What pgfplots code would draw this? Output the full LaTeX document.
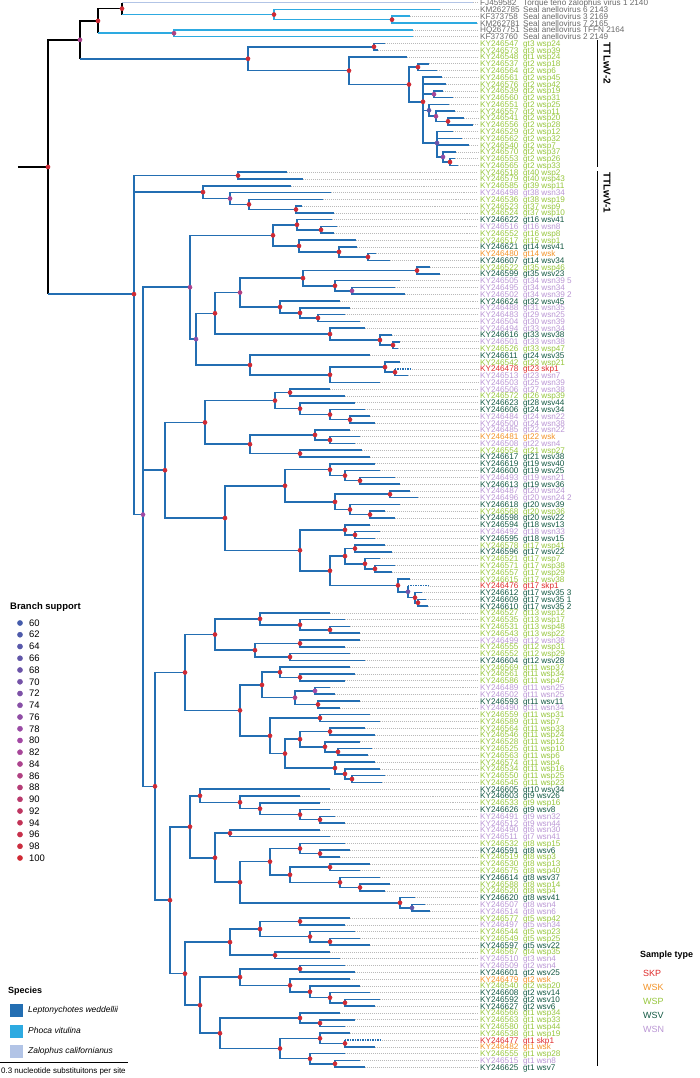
\documentclass[border=0pt]{standalone}
\usepackage{pgfplots}
\pgfplotsset{compat=1.18}
\usepackage{fontspec}
\setmainfont{Liberation Sans}
\definecolor{lep}{RGB}{35,110,178}
\definecolor{pho}{RGB}{45,170,225}
\definecolor{zal}{RGB}{178,196,230}
\definecolor{cP}{RGB}{150,198,60}
\definecolor{cV}{RGB}{18,88,66}
\definecolor{cN}{RGB}{186,150,212}
\definecolor{cK}{RGB}{242,146,38}
\definecolor{cS}{RGB}{222,42,42}
\definecolor{cO}{RGB}{105,105,105}
\definecolor{ldr}{RGB}{185,185,185}
\tikzset{lb/.style={anchor=west,inner sep=0pt,text height=6bp,text depth=0bp,font=\fontsize{8.2}{8.2}\selectfont}}
\newcommand{\lf}[4]{\node[lb,text=#4] at (axis cs:480,#1) {#2};\node[lb,text=#4] at (axis cs:523,#1) {#3};}
\begin{document}
\begin{tikzpicture}
\begin{axis}[scale only axis, width=700bp, height=1078bp, xmin=0, xmax=700, ymin=-0.398, ymax=158.6, y dir=reverse, hide axis, clip=false, unbounded coords=jump,
 colormap={supp}{[1cm] rgb255(0cm)=(69,92,171) rgb255(1cm)=(163,73,164) rgb255(2cm)=(208,42,52)}, point meta min=60, point meta max=100]
% leader lines
\addplot[ldr, line width=0.5, dash pattern=on 0.6pt off 1.4pt] coordinates {
(473,0)(478,0)(nan,nan)(440,1)(478,1)(nan,nan)(410,2)(478,2)(nan,nan)(477,3)(478,3)(nan,nan)(413,4)(478,4)(nan,nan)(413,5)(478,5)(nan,nan)
(385,6)(478,6)(nan,nan)(378,7)(478,7)(nan,nan)(407,8)(478,8)(nan,nan)(429,9)(478,9)(nan,nan)(437,10)(478,10)(nan,nan)(442,11)(478,11)(nan,nan)
(446,12)(478,12)(nan,nan)(443,13)(478,13)(nan,nan)(453,14)(478,14)(nan,nan)(449,15)(478,15)(nan,nan)(455,16)(478,16)(nan,nan)(464,17)(478,17)(nan,nan)
(473,18)(478,18)(nan,nan)(453,19)(478,19)(nan,nan)(462,20)(478,20)(nan,nan)(469,21)(478,21)(nan,nan)(456,22)(478,22)(nan,nan)(455,23)(478,23)(nan,nan)
(458,24)(478,24)(nan,nan)(287,25)(478,25)(nan,nan)(303,26)(478,26)(nan,nan)(291,27)(478,27)(nan,nan)(331,28)(478,28)(nan,nan)(323,29)(478,29)(nan,nan)
(302,30)(478,30)(nan,nan)(334,31)(478,31)(nan,nan)(332,32)(478,32)(nan,nan)(337,33)(478,33)(nan,nan)(334,34)(478,34)(nan,nan)(356,35)(478,35)(nan,nan)
(357,36)(478,36)(nan,nan)(376,37)(478,37)(nan,nan)(390,38)(478,38)(nan,nan)(430,39)(478,39)(nan,nan)(440,40)(478,40)(nan,nan)(400,41)(478,41)(nan,nan)
(395,42)(478,42)(nan,nan)(405,43)(478,43)(nan,nan)(340,44)(478,44)(nan,nan)(350,45)(478,45)(nan,nan)(345,46)(478,46)(nan,nan)(360,47)(478,47)(nan,nan)
(365,48)(478,48)(nan,nan)(392,49)(478,49)(nan,nan)(400,50)(478,50)(nan,nan)(398,51)(478,51)(nan,nan)(370,52)(478,52)(nan,nan)(400,53)(478,53)(nan,nan)
(412,54)(478,54)(nan,nan)(408,55)(478,55)(nan,nan)(380,56)(478,56)(nan,nan)(330,57)(478,57)(nan,nan)(345,58)(478,58)(nan,nan)(355,59)(478,59)(nan,nan)
(365,60)(478,60)(nan,nan)(370,61)(478,61)(nan,nan)(375,62)(478,62)(nan,nan)(350,63)(478,63)(nan,nan)(360,64)(478,64)(nan,nan)(355,65)(478,65)(nan,nan)
(362,66)(478,66)(nan,nan)(370,67)(478,67)(nan,nan)(375,68)(478,68)(nan,nan)(380,69)(478,69)(nan,nan)(395,70)(478,70)(nan,nan)(400,71)(478,71)(nan,nan)
(410,72)(478,72)(nan,nan)(418,73)(478,73)(nan,nan)(400,74)(478,74)(nan,nan)(385,75)(478,75)(nan,nan)(395,76)(478,76)(nan,nan)(370,77)(478,77)(nan,nan)
(380,78)(478,78)(nan,nan)(375,79)(478,79)(nan,nan)(385,80)(478,80)(nan,nan)(392,81)(478,81)(nan,nan)(380,82)(478,82)(nan,nan)(395,83)(478,83)(nan,nan)
(392,84)(478,84)(nan,nan)(410,85)(478,85)(nan,nan)(428,86)(478,86)(nan,nan)(422,87)(478,87)(nan,nan)(426,88)(478,88)(nan,nan)(428,89)(478,89)(nan,nan)
(330,90)(478,90)(nan,nan)(345,91)(478,91)(nan,nan)(350,92)(478,92)(nan,nan)(360,93)(478,93)(nan,nan)(360,94)(478,94)(nan,nan)(345,95)(478,95)(nan,nan)
(350,96)(478,96)(nan,nan)(365,97)(478,97)(nan,nan)(350,98)(478,98)(nan,nan)(355,99)(478,99)(nan,nan)(345,100)(478,100)(nan,nan)(330,101)(478,101)(nan,nan)
(335,102)(478,102)(nan,nan)(360,103)(478,103)(nan,nan)(340,104)(478,104)(nan,nan)(370,105)(478,105)(nan,nan)(380,106)(478,106)(nan,nan)(365,107)(478,107)(nan,nan)
(375,108)(478,108)(nan,nan)(360,109)(478,109)(nan,nan)(372,110)(478,110)(nan,nan)(368,111)(478,111)(nan,nan)(375,112)(478,112)(nan,nan)(380,113)(478,113)(nan,nan)
(385,114)(478,114)(nan,nan)(382,115)(478,115)(nan,nan)(330,116)(478,116)(nan,nan)(300,117)(478,117)(nan,nan)(320,118)(478,118)(nan,nan)(330,119)(478,119)(nan,nan)
(335,120)(478,120)(nan,nan)(345,121)(478,121)(nan,nan)(320,122)(478,122)(nan,nan)(330,123)(478,123)(nan,nan)(345,124)(478,124)(nan,nan)(350,125)(478,125)(nan,nan)
(340,126)(478,126)(nan,nan)(370,127)(478,127)(nan,nan)(360,128)(478,128)(nan,nan)(380,129)(478,129)(nan,nan)(390,130)(478,130)(nan,nan)(385,131)(478,131)(nan,nan)
(415,132)(478,132)(nan,nan)(425,133)(478,133)(nan,nan)(430,134)(478,134)(nan,nan)(350,135)(478,135)(nan,nan)(345,136)(478,136)(nan,nan)(355,137)(478,137)(nan,nan)
(360,138)(478,138)(nan,nan)(370,139)(478,139)(nan,nan)(330,140)(478,140)(nan,nan)(340,141)(478,141)(nan,nan)(345,142)(478,142)(nan,nan)(355,143)(478,143)(nan,nan)
(350,144)(478,144)(nan,nan)(360,145)(478,145)(nan,nan)(370,146)(478,146)(nan,nan)(380,147)(478,147)(nan,nan)(375,148)(478,148)(nan,nan)(340,149)(478,149)(nan,nan)
(355,150)(478,150)(nan,nan)(345,151)(478,151)(nan,nan)(350,152)(478,152)(nan,nan)(380,153)(478,153)(nan,nan)(375,154)(478,154)(nan,nan)(345,155)(478,155)(nan,nan)
(360,156)(478,156)(nan,nan)(365,157)(478,157)
};
% black backbone
\addplot[black, line width=1.6] coordinates {
(80,5.476)(48,5.476)(48,42.98)(nan,nan)(18,24.228)(48,24.228)(nan,nan)
(98,2.6875)(80,2.6875)(80,8.264)(nan,nan)(122,0.875)(98,0.875)(98,4.5)(nan,nan)(122,0)(122,1.75)
};
% Zalophus
\addplot[zal, line width=1.6] coordinates {(122,0)(473,0)};
% Phoca
\addplot[pho, line width=1.6] coordinates {
(98,4.5)(174,4.5)(nan,nan)(122,1.75)(274,1.75)(nan,nan)(440,1)(274,1)(274,2.5)(392,2.5)(nan,nan)
(410,2)(392,2)(392,3)(477,3)(nan,nan)(413,4)(174,4)(174,5)(413,5)
};
% Leptonychotes
\addplot[lep, line width=1.6] coordinates {
(48,42.98)(134,42.98)(nan,nan)(80,8.264)(248,8.264)(nan,nan)
(374,6.5)(248,6.5)(248,10.028)(349,10.028)(nan,nan)
(385,6)(374,6)(374,7)(378,7)(nan,nan)
(407,8)(349,8)(349,12.056)(409,12.056)(nan,nan)
(418,9.5)(409,9.5)(409,14.6125)(423,14.6125)(nan,nan)
(429,9)(418,9)(418,10)(437,10)(nan,nan)
(442,11)(423,11)(423,20.6875)(437,20.6875)(nan,nan)(423,12)(446,12)(nan,nan)(423,13.5)(434,13.5)(nan,nan)(423,15.875)(429,15.875)(nan,nan)
(443,13)(434,13)(434,14)(453,14)(nan,nan)
(449,15)(429,15)(429,16.75)(436,16.75)(nan,nan)
(455,16)(436,16)(436,17.5)(448,17.5)(nan,nan)
(464,17)(448,17)(448,18)(473,18)(nan,nan)
(453,19)(437,19)(437,22.75)(443,22.75)(nan,nan)(437,20)(462,20)(nan,nan)(437,21)(469,21)(nan,nan)
(456,22)(443,22)(443,23.5)(450,23.5)(nan,nan)
(455,23)(450,23)(450,24)(458,24)(nan,nan)
(238,25.5)(134,25.5)(134,75.502)(143,75.502)(nan,nan)(134,27.9375)(203,27.9375)(nan,nan)
(287,25)(238,25)(238,26)(303,26)(nan,nan)
(291,27)(203,27)(203,28.875)(230,28.875)(nan,nan)
(331,28)(230,28)(230,29.75)(249,29.75)(nan,nan)
(323,29)(249,29)(249,30.5)(296,30.5)(nan,nan)
(302,30)(296,30)(296,31)(334,31)(nan,nan)
(190,41.969)(143,41.969)(143,115.578)(155,115.578)(nan,nan)(143,68.957)(165,68.957)(nan,nan)
(273,34.3125)(190,34.3125)(190,49.625)(196,49.625)(nan,nan)
(297,32.75)(273,32.75)(273,35.875)(299,35.875)(nan,nan)
(332,32)(297,32)(297,33.5)(321,33.5)(nan,nan)
(337,33)(321,33)(321,34)(334,34)(nan,nan)
(356,35)(299,35)(299,36.75)(339,36.75)(nan,nan)
(357,36)(339,36)(339,37.5)(368,37.5)(nan,nan)
(376,37)(368,37)(368,38)(390,38)(nan,nan)
(215,45.8125)(196,45.8125)(196,53.4375)(250,53.4375)(nan,nan)
(240,42.75)(215,42.75)(215,48.875)(330,48.875)(nan,nan)
(303,40.625)(240,40.625)(240,44.875)(280,44.875)(nan,nan)
(417,39.5)(303,39.5)(303,41.75)(335,41.75)(nan,nan)
(430,39)(417,39)(417,40)(440,40)(nan,nan)
(400,41)(335,41)(335,42.5)(352,42.5)(nan,nan)
(395,42)(352,42)(352,43)(405,43)(nan,nan)
(340,44)(280,44)(280,45.75)(300,45.75)(nan,nan)
(350,45)(300,45)(300,46.5)(318,46.5)(nan,nan)
(345,46)(318,46)(318,47)(360,47)(nan,nan)
(365,48)(330,48)(330,49.75)(380,49.75)(nan,nan)
(392,49)(380,49)(380,50.5)(393,50.5)(nan,nan)
(400,50)(393,50)(393,51)(398,51)(nan,nan)
(370,52)(250,52)(250,54.875)(330,54.875)(nan,nan)
(385,53.75)(330,53.75)(330,56)(380,56)(nan,nan)
(400,53)(385,53)(385,54.5)(395,54.5)(nan,nan)
(395,54)(395,55)(408,55)(nan,nan)
(205,61.906)(165,61.906)(165,76.008)(225,76.008)(nan,nan)
(275,58.6875)(205,58.6875)(205,65.125)(250,65.125)(nan,nan)
(290,57.5)(275,57.5)(275,59.875)(300,59.875)(nan,nan)
(330,57)(290,57)(290,58)(345,58)(nan,nan)
(355,59)(300,59)(300,60.75)(330,60.75)(nan,nan)
(365,60)(330,60)(330,61.5)(350,61.5)(nan,nan)
(370,61)(350,61)(350,62)(375,62)(nan,nan)
(315,63.75)(250,63.75)(250,66.5)(300,66.5)(nan,nan)
(350,63)(315,63)(315,64.5)(330,64.5)(nan,nan)
(360,64)(330,64)(330,65)(355,65)(nan,nan)
(362,66)(300,66)(300,67)(370,67)(nan,nan)
(285,71.25)(225,71.25)(225,80.766)(300,80.766)(nan,nan)
(330,68.875)(285,68.875)(285,73.625)(335,73.625)(nan,nan)
(375,68)(330,68)(330,69.75)(345,69.75)(nan,nan)
(380,69)(345,69)(345,70.5)(360,70.5)(nan,nan)
(395,70)(360,70)(360,71)(400,71)(nan,nan)
(390,72.5)(335,72.5)(335,74.75)(350,74.75)(nan,nan)
(410,72)(390,72)(390,73)(418,73)(nan,nan)
(400,74)(350,74)(350,75.5)(370,75.5)(nan,nan)
(385,75)(370,75)(370,76)(395,76)(nan,nan)
(345,77.75)(300,77.75)(300,83.781)(330,83.781)(nan,nan)
(370,77)(345,77)(345,78.5)(355,78.5)(nan,nan)
(380,78)(355,78)(355,79)(375,79)(nan,nan)
(345,81.625)(330,81.625)(330,85.9375)(398,85.9375)(nan,nan)
(355,80.5)(345,80.5)(345,82.75)(365,82.75)(nan,nan)
(385,80)(355,80)(355,81)(392,81)(nan,nan)
(380,82)(365,82)(365,83.5)(375,83.5)(nan,nan)
(395,83)(375,83)(375,84)(392,84)(nan,nan)
(410,85)(398,85)(398,86.875)(408,86.875)(nan,nan)
(408,86)(408,87.75)(415,87.75)(nan,nan)
(422,87)(415,87)(415,88.5)(418,88.5)(nan,nan)
(426,88)(418,88)(418,89)(428,89)(nan,nan)
(185,98.781)(155,98.781)(155,132.375)(170,132.375)(nan,nan)
(215,93.1875)(185,93.1875)(185,104.375)(240,104.375)(nan,nan)
(260,90.875)(215,90.875)(215,95.5)(255,95.5)(nan,nan)
(330,90)(260,90)(260,91.75)(300,91.75)(nan,nan)
(345,91)(300,91)(300,92.5)(330,92.5)(nan,nan)
(350,92)(330,92)(330,93)(360,93)(nan,nan)
(300,94.5)(255,94.5)(255,96.5)(290,96.5)(nan,nan)
(360,94)(300,94)(300,95)(345,95)(nan,nan)
(350,96)(290,96)(290,97)(365,97)(nan,nan)
(262,100.625)(240,100.625)(240,108.125)(270,108.125)(nan,nan)
(280,98.75)(262,98.75)(262,102.5)(295,102.5)(nan,nan)
(350,98)(280,98)(280,99.5)(300,99.5)(nan,nan)
(355,99)(300,99)(300,100)(345,100)(nan,nan)
(315,101.5)(295,101.5)(295,103.5)(318,103.5)(nan,nan)
(330,101)(315,101)(315,102)(335,102)(nan,nan)
(360,103)(318,103)(318,104)(340,104)(nan,nan)
(320,105.5)(270,105.5)(270,110.75)(285,110.75)(nan,nan)
(370,105)(320,105)(320,106)(380,106)(nan,nan)
(300,108.625)(285,108.625)(285,112.875)(335,112.875)(nan,nan)
(330,107.5)(300,107.5)(300,109.75)(325,109.75)(nan,nan)
(365,107)(330,107)(330,108)(375,108)(nan,nan)
(360,109)(325,109)(325,110.5)(338,110.5)(nan,nan)
(372,110)(338,110)(338,111)(368,111)(nan,nan)
(375,112)(335,112)(335,113.75)(345,113.75)(nan,nan)
(380,113)(345,113)(345,114.5)(352,114.5)(nan,nan)
(385,114)(352,114)(352,115)(382,115)(nan,nan)
(190,121.539)(170,121.539)(170,143.211)(185,143.211)(nan,nan)
(200,116.969)(190,116.969)(190,126.109)(215,126.109)(nan,nan)
(330,116)(200,116)(200,117.9375)(240,117.9375)(nan,nan)
(300,117)(240,117)(240,118.875)(260,118.875)(nan,nan)
(320,118)(260,118)(260,119.75)(300,119.75)(nan,nan)
(330,119)(300,119)(300,120.5)(320,120.5)(nan,nan)
(335,120)(320,120)(320,121)(345,121)(nan,nan)
(230,122.5)(215,122.5)(215,129.719)(240,129.719)(nan,nan)
(320,122)(230,122)(230,123)(330,123)(nan,nan)
(270,126.6875)(240,126.6875)(240,132.75)(400,132.75)(nan,nan)
(300,124.75)(270,124.75)(270,128.625)(290,128.625)(nan,nan)
(345,124)(300,124)(300,125.5)(320,125.5)(nan,nan)
(350,125)(320,125)(320,126)(340,126)(nan,nan)
(330,127.5)(290,127.5)(290,129.75)(340,129.75)(nan,nan)
(370,127)(330,127)(330,128)(360,128)(nan,nan)
(380,129)(340,129)(340,130.5)(360,130.5)(nan,nan)
(390,130)(360,130)(360,131)(385,131)(nan,nan)
(415,132)(400,132)(400,133.5)(412,133.5)(nan,nan)
(425,133)(412,133)(412,134)(430,134)(nan,nan)
(230,138.5625)(185,138.5625)(185,147.859)(200,147.859)(nan,nan)
(260,136.625)(230,136.625)(230,140.5)(275,140.5)(nan,nan)
(300,135.5)(260,135.5)(260,137.75)(310,137.75)(nan,nan)
(350,135)(300,135)(300,136)(345,136)(nan,nan)
(355,137)(310,137)(310,138.5)(330,138.5)(nan,nan)
(360,138)(330,138)(330,139)(370,139)(nan,nan)
(330,140)(275,140)(275,141)(340,141)(nan,nan)
(240,143.71875)(200,143.71875)(200,152)(220,152)(nan,nan)
(300,142.5)(240,142.5)(240,144.9375)(290,144.9375)(nan,nan)
(345,142)(300,142)(300,143)(355,143)(nan,nan)
(350,144)(290,144)(290,145.875)(310,145.875)(nan,nan)
(360,145)(310,145)(310,146.75)(330,146.75)(nan,nan)
(370,146)(330,146)(330,147.5)(345,147.5)(nan,nan)
(380,147)(345,147)(345,148)(375,148)(nan,nan)
(300,149.75)(220,149.75)(220,154.25)(280,154.25)(nan,nan)
(340,149)(300,149)(300,150.5)(320,150.5)(nan,nan)
(355,150)(320,150)(320,151)(345,151)(nan,nan)
(320,152.75)(280,152.75)(280,155.75)(310,155.75)(nan,nan)
(350,152)(320,152)(320,153.5)(345,153.5)(nan,nan)
(345,153)(345,154)(375,154)(nan,nan)
(345,155)(310,155)(310,156.5)(335,156.5)(nan,nan)
(360,156)(335,156)(335,157)(365,157)
};
% SKP branches dotted
\addplot[lep, line width=1.4, dash pattern=on 1.5pt off 1pt] coordinates {(395,54)(412,54)(nan,nan)(408,86)(428,86)(nan,nan)(345,153)(380,153)};
% node support dots
\addplot[scatter, only marks, mark=*, mark size=2.1, point meta=explicit, scatter/use mapped color={draw=mapped color,fill=mapped color}] coordinates {
(48,24.228)[100](122,0.875)[100](98,2.6875)[100](274,1.75)[100](392,2.5)[100](248,8.264)[100](374,6.5)[100](349,10.028)[100](409,12.056)[100](418,9.5)[100](423,14.6125)[100](448,17.5)[100](450,23.5)[100]
(134,42.98)[100](238,25.5)[100](203,27.9375)[100](249,29.75)[100](296,30.5)[100]
(273,34.3125)[100](297,32.75)[100](321,33.5)[100](299,35.875)[100](339,36.75)[100](368,37.5)[100]
(215,45.8125)[100](303,40.625)[100](417,39.5)[100](335,41.75)[100](280,44.875)[100](300,45.75)[100](318,46.5)[100](330,48.875)[100](380,49.75)[100](393,50.5)[100](250,53.4375)[100](330,54.875)[100](385,53.75)[100](395,54.5)[100]
(165,68.957)[100](205,61.906)[100](275,58.6875)[100](290,57.5)[100](300,59.875)[100](330,60.75)[100](350,61.5)[100](250,65.125)[100](315,63.75)[100](330,64.5)[100](300,66.5)[100]
(225,76.008)[100](285,71.25)[100](330,68.875)[100](345,69.75)[100](360,70.5)[100](335,73.625)[100](390,72.5)[100](350,74.75)[100](370,75.5)[100]
(300,80.766)[100](345,77.75)[100](355,78.5)[100](330,83.781)[100](345,81.625)[100](355,80.5)[100](365,82.75)[100](375,83.5)[100](398,85.9375)[100](415,87.75)[100](418,88.5)[100]
(155,115.578)[100](185,98.781)[100](215,93.1875)[100](260,90.875)[100](300,91.75)[100](330,92.5)[100](255,95.5)[100](300,94.5)[100](290,96.5)[100]
(240,104.375)[100](262,100.625)[100](280,98.75)[100](300,99.5)[100](318,103.5)[100](270,108.125)[100](320,105.5)[100](285,110.75)[100](300,108.625)[100](330,107.5)[100](325,109.75)[100](338,110.5)[100](335,112.875)[100](345,113.75)[100](352,114.5)[100]
(170,132.375)[100](190,121.539)[100](200,116.969)[100](240,117.9375)[100](260,118.875)[100](300,119.75)[100](320,120.5)[100](215,126.109)[100](230,122.5)[100](240,129.719)[100](270,126.6875)[100](300,124.75)[100](320,125.5)[100](290,128.625)[100](330,127.5)[100](340,129.75)[100](360,130.5)[100](400,132.75)[100]
(185,143.211)[100](230,138.5625)[100](260,136.625)[100](300,135.5)[100](310,137.75)[100](330,138.5)[100](275,140.5)[100](200,147.859)[100](240,143.71875)[100](300,142.5)[100](290,144.9375)[100](310,145.875)[100](330,146.75)[100](345,147.5)[100](220,152)[100](300,149.75)[100](320,150.5)[100](280,154.25)[100](320,152.75)[100](345,153.5)[100](310,155.75)[100](335,156.5)[100]
(80,5.476)[84](174,4.5)[86](434,13.5)[82](429,15.875)[64](436,16.75)[84](437,20.6875)[68](443,22.75)[76](230,28.875)[84](143,75.502)[80](190,41.969)[84](196,49.625)[76](240,42.75)[86](352,42.5)[82](295,102.5)[86](315,101.5)[80](408,86.875)[70](412,133.5)[66]
};
% leaf labels
\lf{0}{FJ459582}{Torque teno zalophus virus 1 2140}{cO}
\lf{1}{KM262785}{Seal anellovirus 6 2143}{cO}
\lf{2}{KF373758}{Seal anellovirus 3 2169}{cO}
\lf{3}{KM262781}{Seal anellovirus 7 2165}{cO}
\lf{4}{HQ267751}{Seal anellovirus TFFN 2164}{cO}
\lf{5}{KF373760}{Seal anellovirus 2 2149}{cO}
\lf{6}{KY246547}{gt3 wsp24}{cP}
\lf{7}{KY246573}{gt3 wsp39}{cP}
\lf{8}{KY246548}{gt1 wsp24}{cP}
\lf{9}{KY246537}{gt2 wsp18}{cP}
\lf{10}{KY246564}{gt2 wsp6}{cP}
\lf{11}{KY246561}{gt2 wsp45}{cP}
\lf{12}{KY246576}{gt2 wsp42}{cP}
\lf{13}{KY246539}{gt2 wsp19}{cP}
\lf{14}{KY246560}{gt2 wsp31}{cP}
\lf{15}{KY246551}{gt2 wsp25}{cP}
\lf{16}{KY246557}{gt2 wsp11}{cP}
\lf{17}{KY246541}{gt2 wsp20}{cP}
\lf{18}{KY246556}{gt2 wsp28}{cP}
\lf{19}{KY246529}{gt2 wsp12}{cP}
\lf{20}{KY246562}{gt2 wsp32}{cP}
\lf{21}{KY246540}{gt2 wsp7}{cP}
\lf{22}{KY246570}{gt2 wsp37}{cP}
\lf{23}{KY246553}{gt2 wsp26}{cP}
\lf{24}{KY246565}{gt2 wsp33}{cP}
\lf{25}{KY246518}{gt40 wsp2}{cP}
\lf{26}{KY246579}{gt40 wsp43}{cP}
\lf{27}{KY246585}{gt39 wsp11}{cP}
\lf{28}{KY246498}{gt38 wsn34}{cN}
\lf{29}{KY246536}{gt38 wsp19}{cP}
\lf{30}{KY246523}{gt37 wsp9}{cP}
\lf{31}{KY246524}{gt37 wsp10}{cP}
\lf{32}{KY246622}{gt16 wsv41}{cV}
\lf{33}{KY246516}{gt16 wsn8}{cN}
\lf{34}{KY246552}{gt16 wsp8}{cP}
\lf{35}{KY246517}{gt15 wsp1}{cP}
\lf{36}{KY246621}{gt14 wsv41}{cV}
\lf{37}{KY246480}{gt14 wsk}{cK}
\lf{38}{KY246607}{gt14 wsv34}{cV}
\lf{39}{KY246522}{gt35 wsp46}{cP}
\lf{40}{KY246599}{gt35 wsv23}{cV}
\lf{41}{KY246505}{gt34 wsn39 5}{cN}
\lf{42}{KY246495}{gt34 wsn34}{cN}
\lf{43}{KY246502}{gt34 wsn39 2}{cN}
\lf{44}{KY246624}{gt32 wsv45}{cV}
\lf{45}{KY246488}{gt31 wsn35}{cN}
\lf{46}{KY246483}{gt29 wsn25}{cN}
\lf{47}{KY246504}{gt30 wsn39}{cN}
\lf{48}{KY246494}{gt33 wsn34}{cN}
\lf{49}{KY246616}{gt33 wsv38}{cV}
\lf{50}{KY246501}{gt33 wsn38}{cN}
\lf{51}{KY246526}{gt33 wsp47}{cP}
\lf{52}{KY246611}{gt24 wsv35}{cV}
\lf{53}{KY246542}{gt23 wsp21}{cP}
\lf{54}{KY246478}{gt23 skp1}{cS}
\lf{55}{KY246513}{gt23 wsn7}{cN}
\lf{56}{KY246503}{gt25 wsn39}{cN}
\lf{57}{KY246506}{gt27 wsn38}{cN}
\lf{58}{KY246572}{gt26 wsp39}{cP}
\lf{59}{KY246623}{gt28 wsv44}{cV}
\lf{60}{KY246606}{gt24 wsv34}{cV}
\lf{61}{KY246484}{gt24 wsn22}{cN}
\lf{62}{KY246500}{gt24 wsn38}{cN}
\lf{63}{KY246485}{gt22 wsn22}{cN}
\lf{64}{KY246481}{gt22 wsk}{cK}
\lf{65}{KY246508}{gt22 wsn4}{cN}
\lf{66}{KY246554}{gt21 wsp27}{cP}
\lf{67}{KY246617}{gt21 wsv38}{cV}
\lf{68}{KY246619}{gt19 wsv40}{cV}
\lf{69}{KY246600}{gt19 wsv25}{cV}
\lf{70}{KY246493}{gt19 wsn21}{cN}
\lf{71}{KY246613}{gt19 wsv36}{cV}
\lf{72}{KY246487}{gt20 wsn24}{cN}
\lf{73}{KY246496}{gt20 wsn24 2}{cN}
\lf{74}{KY246618}{gt20 wsv39}{cV}
\lf{75}{KY246568}{gt20 wsp36}{cP}
\lf{76}{KY246598}{gt20 wsv22}{cV}
\lf{77}{KY246594}{gt18 wsv13}{cV}
\lf{78}{KY246492}{gt18 wsn33}{cN}
\lf{79}{KY246595}{gt18 wsv15}{cV}
\lf{80}{KY246578}{gt17 wsp41}{cP}
\lf{81}{KY246596}{gt17 wsv22}{cV}
\lf{82}{KY246521}{gt17 wsp7}{cP}
\lf{83}{KY246571}{gt17 wsp38}{cP}
\lf{84}{KY246557}{gt17 wsp29}{cP}
\lf{85}{KY246615}{gt17 wsv38}{cP}
\lf{86}{KY246476}{gt17 skp1}{cS}
\lf{87}{KY246612}{gt17 wsv35 3}{cV}
\lf{88}{KY246609}{gt17 wsv35 1}{cV}
\lf{89}{KY246610}{gt17 wsv35 2}{cV}
\lf{90}{KY246527}{gt13 wsp12}{cP}
\lf{91}{KY246535}{gt13 wsp17}{cP}
\lf{92}{KY246531}{gt13 wsp48}{cP}
\lf{93}{KY246543}{gt13 wsp22}{cP}
\lf{94}{KY246499}{gt12 wsn38}{cN}
\lf{95}{KY246555}{gt12 wsp31}{cP}
\lf{96}{KY246552}{gt12 wsp29}{cP}
\lf{97}{KY246604}{gt12 wsv28}{cV}
\lf{98}{KY246569}{gt11 wsp37}{cP}
\lf{99}{KY246561}{gt11 wsp34}{cP}
\lf{100}{KY246586}{gt11 wsp47}{cP}
\lf{101}{KY246489}{gt11 wsn25}{cN}
\lf{102}{KY246502}{gt11 wsn25}{cN}
\lf{103}{KY246593}{gt11 wsv11}{cV}
\lf{104}{KY246490}{gt11 wsn34}{cN}
\lf{105}{KY246559}{gt11 wsp31}{cP}
\lf{106}{KY246589}{gt11 wsp7}{cP}
\lf{107}{KY246564}{gt11 wsp33}{cP}
\lf{108}{KY246546}{gt11 wsp24}{cP}
\lf{109}{KY246528}{gt11 wsp12}{cP}
\lf{110}{KY246525}{gt11 wsp10}{cP}
\lf{111}{KY246563}{gt11 wsp6}{cP}
\lf{112}{KY246574}{gt11 wsp4}{cP}
\lf{113}{KY246534}{gt11 wsp16}{cP}
\lf{114}{KY246550}{gt11 wsp25}{cP}
\lf{115}{KY246545}{gt11 wsp23}{cP}
\lf{116}{KY246605}{gt10 wsv34}{cV}
\lf{117}{KY246603}{gt9 wsv26}{cV}
\lf{118}{KY246533}{gt9 wsp16}{cP}
\lf{119}{KY246626}{gt9 wsv8}{cV}
\lf{120}{KY246491}{gt9 wsn32}{cN}
\lf{121}{KY246512}{gt9 wsn44}{cN}
\lf{122}{KY246490}{gt6 wsn30}{cN}
\lf{123}{KY246511}{gt7 wsn41}{cN}
\lf{124}{KY246532}{gt8 wsp15}{cP}
\lf{125}{KY246591}{gt8 wsv6}{cV}
\lf{126}{KY246519}{gt8 wsp3}{cP}
\lf{127}{KY246530}{gt8 wsp13}{cP}
\lf{128}{KY246575}{gt8 wsp40}{cP}
\lf{129}{KY246614}{gt8 wsv37}{cV}
\lf{130}{KY246588}{gt8 wsp14}{cP}
\lf{131}{KY246520}{gt8 wsp4}{cP}
\lf{132}{KY246620}{gt8 wsv41}{cV}
\lf{133}{KY246507}{gt8 wsn4}{cN}
\lf{134}{KY246514}{gt8 wsn6}{cN}
\lf{135}{KY246577}{gt5 wsp42}{cP}
\lf{136}{KY246497}{gt5 wsn34}{cN}
\lf{137}{KY246544}{gt5 wsp23}{cP}
\lf{138}{KY246549}{gt5 wsp25}{cP}
\lf{139}{KY246597}{gt5 wsv22}{cV}
\lf{140}{KY246567}{gt4 wsp35}{cP}
\lf{141}{KY246510}{gt3 wsn4}{cN}
\lf{142}{KY246509}{gt2 wsn4}{cN}
\lf{143}{KY246601}{gt2 wsv25}{cV}
\lf{144}{KY246479}{gt2 wsk}{cK}
\lf{145}{KY246540}{gt2 wsp20}{cP}
\lf{146}{KY246608}{gt2 wsv14}{cV}
\lf{147}{KY246592}{gt2 wsv10}{cV}
\lf{148}{KY246627}{gt2 wsv6}{cV}
\lf{149}{KY246566}{gt1 wsp34}{cP}
\lf{150}{KY246563}{gt1 wsp33}{cP}
\lf{151}{KY246580}{gt1 wsp44}{cP}
\lf{152}{KY246538}{gt1 wsp19}{cP}
\lf{153}{KY246477}{gt1 skp1}{cS}
\lf{154}{KY246482}{gt1 wsk}{cK}
\lf{155}{KY246555}{gt1 wsp28}{cP}
\lf{156}{KY246515}{gt1 wsn8}{cN}
\lf{157}{KY246625}{gt1 wsv7}{cV}
% clade bars
\addplot[black, line width=0.8] coordinates {(597,5.5)(597,24.23)(nan,nan)(597,24.82)(597,156.83)};
\node[rotate=-90, anchor=west, inner sep=0pt, font=\bfseries\fontsize{10}{10}\selectfont] at (axis cs:607,5.9) {TTLwV-2};
\node[rotate=-90, anchor=west, inner sep=0pt, font=\bfseries\fontsize{10}{10}\selectfont] at (axis cs:607,25.0) {TTLwV-1};
% Branch support legend
\node[anchor=west, inner sep=0pt, font=\bfseries\fontsize{9.5}{9.5}\selectfont] at (axis cs:10,89.13) {Branch support};
\addplot[scatter, only marks, mark=*, mark size=2.6, point meta=explicit, scatter/use mapped color={draw=mapped color,fill=mapped color}] coordinates {
(20,91.49)[60](20,93.22)[62](20,94.96)[64](20,96.69)[66](20,98.42)[68](20,100.16)[70](20,101.89)[72](20,103.62)[74](20,105.36)[76](20,107.09)[78]
(20,108.82)[80](20,110.55)[82](20,112.29)[84](20,114.02)[86](20,115.75)[88](20,117.49)[90](20,119.22)[92](20,120.95)[94](20,122.69)[96](20,124.42)[98](20,126.15)[100]};
\foreach \v/\y in {60/91.49,62/93.22,64/94.96,66/96.69,68/98.42,70/100.16,72/101.89,74/103.62,76/105.36,78/107.09,80/108.82,82/110.55,84/112.29,86/114.02,88/115.75,90/117.49,92/119.22,94/120.95,96/122.69,98/124.42,100/126.15}{
 \edef\tmp{\noexpand\node[anchor=west, inner sep=0pt, font=\noexpand\fontsize{9.5}{9.5}\noexpand\selectfont] at (axis cs:29,\y) {\v};}\tmp}
% Species legend
\node[anchor=west, inner sep=0pt, font=\bfseries\fontsize{9}{9}\selectfont] at (axis cs:8,145.77) {Species};
\addplot[only marks, mark=square*, mark size=6, lep] coordinates {(16,148.57)};
\addplot[only marks, mark=square*, mark size=6, pho] coordinates {(16,151.66)};
\addplot[only marks, mark=square*, mark size=6, zal] coordinates {(16,154.6)};
\node[anchor=west, inner sep=0pt, font=\itshape\fontsize{8.5}{8.5}\selectfont] at (axis cs:28,148.57) {Leptonychotes weddellii};
\node[anchor=west, inner sep=0pt, font=\itshape\fontsize{8.5}{8.5}\selectfont] at (axis cs:28,151.66) {Phoca vitulina};
\node[anchor=west, inner sep=0pt, font=\itshape\fontsize{8.5}{8.5}\selectfont] at (axis cs:28,154.6) {Zalophus californianus};
% scale bar
\addplot[black, line width=0.7] coordinates {(0,156.24)(128,156.24)};
\node[anchor=west, inner sep=0pt, font=\fontsize{8}{8}\selectfont] at (axis cs:1,157.6) {0.3 nucleotide substituitons per site};
% Sample type legend
\node[anchor=west, inner sep=0pt, font=\bfseries\fontsize{9}{9}\selectfont] at (axis cs:640,140.45) {Sample type};
\node[anchor=west, inner sep=0pt, text=cS, font=\fontsize{9}{9}\selectfont] at (axis cs:643,143.11) {SKP};
\node[anchor=west, inner sep=0pt, text=cK, font=\fontsize{9}{9}\selectfont] at (axis cs:643,145.18) {WSK};
\node[anchor=west, inner sep=0pt, text=cP, font=\fontsize{9}{9}\selectfont] at (axis cs:643,147.24) {WSP};
\node[anchor=west, inner sep=0pt, text=cV, font=\fontsize{9}{9}\selectfont] at (axis cs:643,149.31) {WSV};
\node[anchor=west, inner sep=0pt, text=cN, font=\fontsize{9}{9}\selectfont] at (axis cs:643,151.37) {WSN};
\end{axis}
\pgfresetboundingbox
\path[use as bounding box] (current axis.south west) rectangle (current axis.north east);
\end{tikzpicture}
\end{document}
